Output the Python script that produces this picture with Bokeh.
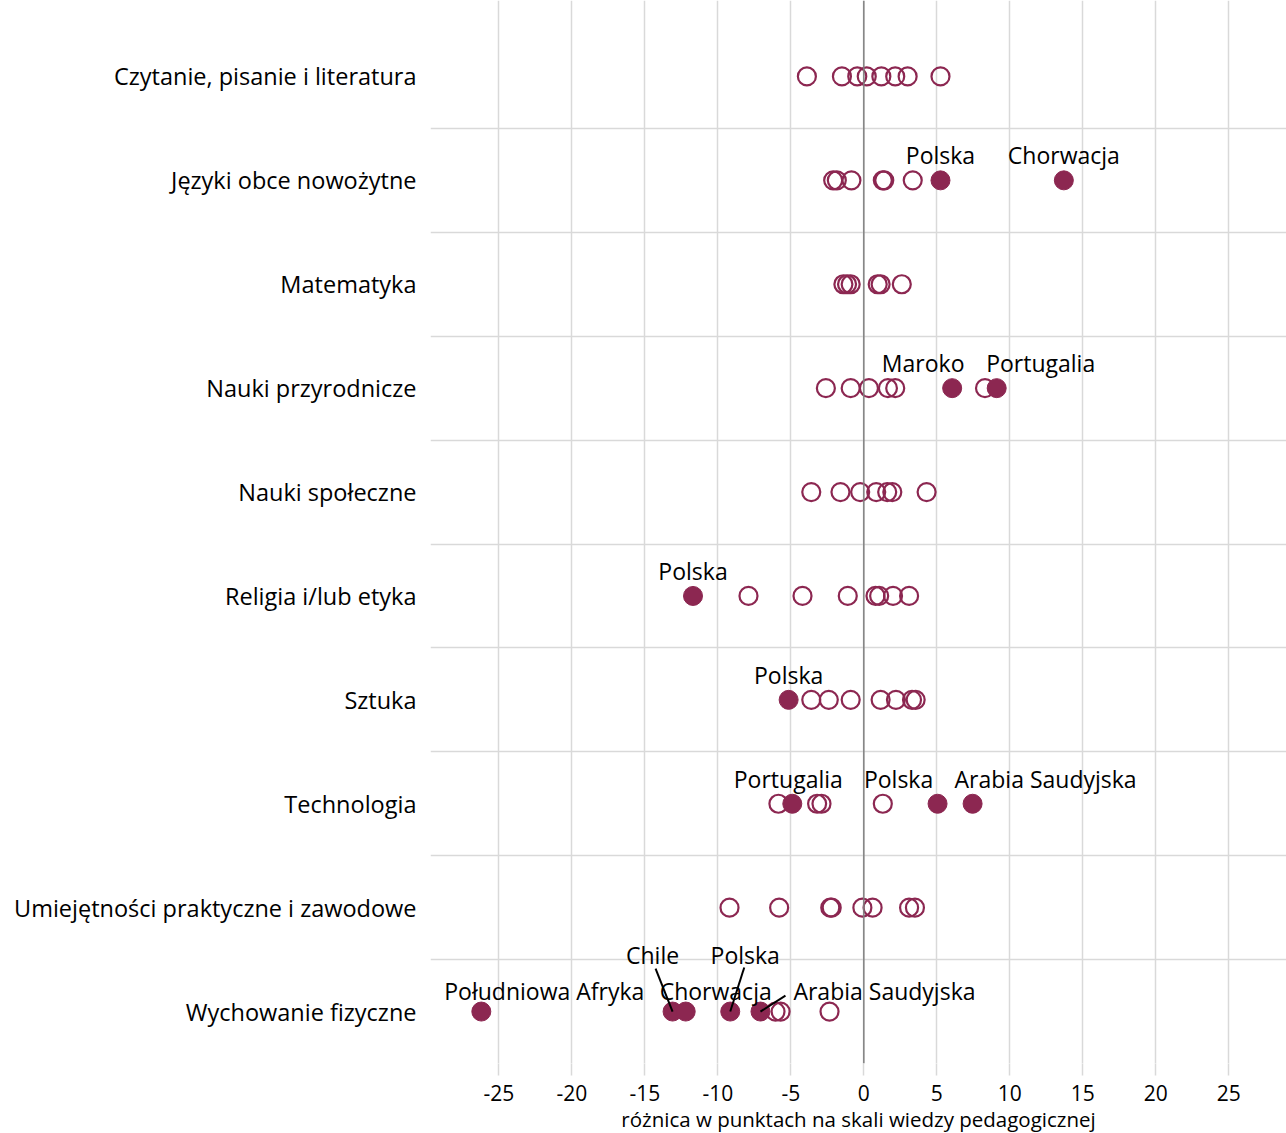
from bokeh.plotting import figure
from bokeh.models import Range1d, FixedTicker, Span, ColumnDataSource
from bokeh.embed import file_html
from bokeh.resources import INLINE
from bokeh.core.properties import value

# ---------------- data ----------------
categories = ["Czytanie, pisanie i literatura", "Języki obce nowożytne", "Matematyka",
              "Nauki przyrodnicze", "Nauki społeczne", "Religia i/lub etyka", "Sztuka",
              "Technologia", "Umiejętności praktyczne i zawodowe", "Wychowanie fizyczne"]

czytanie_open = [-3.9, -1.5, -0.45, 0.2, 1.2, 2.15, 3.0, 5.25]
jezyki_open = [-2.1, -1.85, -0.85, 1.3, 1.4, 3.35]
matematyka_open = [-1.4, -1.15, -0.9, 0.95, 1.15, 2.6]
przyrodnicze_open = [-2.6, -0.9, 0.35, 1.65, 2.15, 8.3]
spoleczne_open = [-3.6, -1.6, -0.25, 0.85, 1.6, 1.95, 4.3]
religia_open = [-7.9, -4.2, -1.1, 0.8, 1.05, 2.0, 3.1]
sztuka_open = [-3.6, -2.4, -0.9, 1.15, 2.2, 3.3, 3.55]
technologia_open = [-5.85, -3.2, -2.9, 1.3]
umiejetnosci_open = [-9.2, -5.8, -2.3, -2.2, -0.1, 0.6, 3.1, 3.5]
wf_open = [-6.05, -5.7, -2.35]

open_series = [czytanie_open, jezyki_open, matematyka_open, przyrodnicze_open, spoleczne_open,
               religia_open, sztuka_open, technologia_open, umiejetnosci_open, wf_open]

# highlighted countries: category index, value, name
hl_category = [1, 1, 3, 3, 5, 6, 7, 7, 7, 9, 9, 9, 9, 9]
hl_value = [5.25, 13.7, 6.05, 9.1, -11.7, -5.15, -4.9, 5.05, 7.45,
            -26.2, -13.1, -12.2, -9.15, -7.08]
hl_name = ["Polska", "Chorwacja", "Maroko", "Portugalia", "Polska", "Polska", "Portugalia",
           "Polska", "Arabia Saudyjska", "Południowa Afryka", "Chile", "Chorwacja", "Polska",
           "Arabia Saudyjska"]

x_ticks = [-25, -20, -15, -10, -5, 0, 5, 10, 15, 20, 25]
x_tick_labels = ["-25", "-20", "-15", "-10", "-5", "0", "5", "10", "15", "20", "25"]
x_title = "różnica w punktach na skali wiedzy pedagogicznej"

# ---------------- layout / style ----------------
COLOR = "#8C2751"
FONT = "Open Sans"
X0, X1 = -29.68, 28.95
Y_BOTTOM, Y_TOP = 9.5, -0.731
FW, FH = 856, 1063
px_x = FW / (X1 - X0)
px_y = FH / (Y_BOTTOM - Y_TOP)

# label offsets in screen pixels (dx, dy) and leader-line end offsets
lab_dx = [0, 0, -29, 44, 0, 0, -4, -39, 73, 63, -20, 30, 15, 124]
lab_dy = [-25, -25, -25, -25, -25, -25, -25, -25, -25, -21, -57, -21, -57, -21]
leader_idx = [10, 12, 13]
leader_dx = [-17, 14, 25]
leader_dy = [-43, -44, -16]

p = figure(frame_width=FW, frame_height=FH,
           x_range=Range1d(X0, X1), y_range=Range1d(Y_BOTTOM, Y_TOP),
           output_backend="svg", toolbar_location=None,
           min_border_left=430, min_border_right=0, min_border_top=0, min_border_bottom=70)
p.outline_line_color = None
p.background_fill_color = "white"
p.border_fill_color = "white"

# grids
p.xgrid.ticker = FixedTicker(ticks=x_ticks)
p.xgrid.grid_line_color = "#d9d9d9"
p.xgrid.grid_line_width = 1.5
p.ygrid.ticker = FixedTicker(ticks=[i + 0.5 for i in range(len(categories))])
p.ygrid.grid_line_color = "#d9d9d9"
p.ygrid.grid_line_width = 1.5
p.add_layout(Span(location=0, dimension="height", line_color="#808080", line_width=1.5))

# x axis
p.xaxis.ticker = FixedTicker(ticks=x_ticks)
p.xaxis.major_label_overrides = dict(zip(x_ticks, x_tick_labels))
p.xaxis.axis_line_color = None
p.xaxis.major_tick_line_color = "#d9d9d9"
p.xaxis.major_tick_line_width = 1.5
p.xaxis.major_tick_out = 12
p.xaxis.major_tick_in = 0
p.xaxis.minor_tick_line_color = None
p.xaxis.major_label_text_font = FONT
p.xaxis.major_label_text_font_size = "21px"
p.xaxis.major_label_text_color = "black"
p.xaxis.major_label_standoff = 9
p.xaxis.axis_label = x_title
p.xaxis.axis_label_text_font = FONT
p.xaxis.axis_label_text_font_size = "20.5px"
p.xaxis.axis_label_text_font_style = "normal"
p.xaxis.axis_label_text_color = "black"
p.xaxis.axis_label_standoff = 1

# y axis (category labels)
p.yaxis.ticker = FixedTicker(ticks=list(range(len(categories))))
p.yaxis.major_label_overrides = {i: c for i, c in enumerate(categories)}
p.yaxis.axis_line_color = None
p.yaxis.major_tick_line_color = None
p.yaxis.minor_tick_line_color = None
p.yaxis.major_label_text_font = FONT
p.yaxis.major_label_text_font_size = "23.5px"
p.yaxis.major_label_text_color = "black"
p.yaxis.major_label_standoff = 8

# open circles
ox, oy = [], []
for i, vals in enumerate(open_series):
    for v in vals:
        ox.append(v)
        oy.append(i)
p.scatter(x=ox, y=oy, size=18, fill_color=None, line_color=COLOR, line_width=2.2)

# filled circles
p.scatter(x=hl_value, y=hl_category, size=19, fill_color=COLOR, line_color=COLOR, line_width=1)

# leader lines
sx0 = [hl_value[i] for i in leader_idx]
sy0 = [hl_category[i] for i in leader_idx]
sx1 = [hl_value[i] + dx / px_x for i, dx in zip(leader_idx, leader_dx)]
sy1 = [hl_category[i] + dy / px_y for i, dy in zip(leader_idx, leader_dy)]
p.segment(x0=sx0, y0=sy0, x1=sx1, y1=sy1, line_color="black", line_width=2)

# labels
src = ColumnDataSource(dict(x=hl_value, y=hl_category, t=hl_name, dx=lab_dx, dy=lab_dy))
p.text(x="x", y="y", text="t", x_offset="dx", y_offset="dy", source=src,
       text_align="center", text_baseline="middle", text_font=value(FONT),
       text_font_size="23px", text_color="black")

open("out.html", "w").write(file_html(p, INLINE))
